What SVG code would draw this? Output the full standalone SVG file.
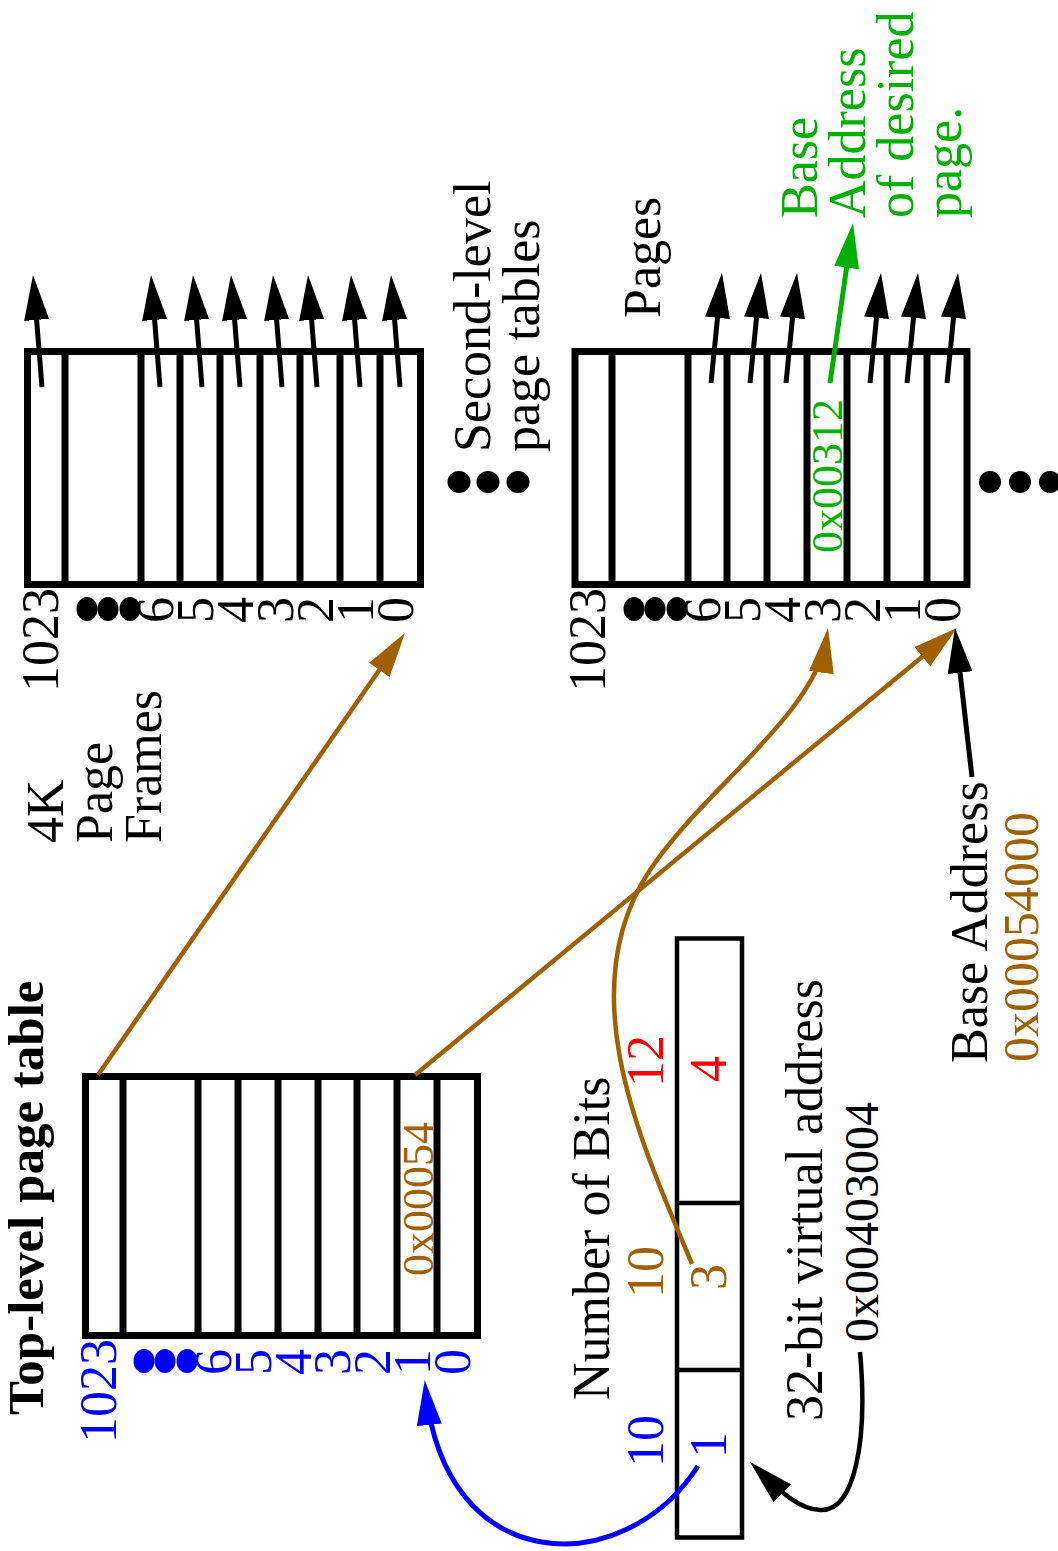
<svg xmlns="http://www.w3.org/2000/svg" width="1058" height="1551" viewBox="0 0 1058 1551">
<style>
.t{font-family:"Liberation Serif","Times New Roman",serif;font-size:52px;fill:#000}
.bold{font-weight:bold;font-size:51px}
.hex{font-size:44px}
.blue{fill:#0000ff}
.brown{fill:#a05f00}
.red{fill:#ff0000}
.green{fill:#00b000}
.tbl{fill:none;stroke:#000;stroke-width:7}
.div{stroke:#000;stroke-width:7}
.vbox{fill:none;stroke:#000;stroke-width:4.5}
.ar{fill:none;stroke:#000;stroke-width:5}
.arb{fill:none;stroke:#a05f00;stroke-width:4.5}
.arbl{fill:none;stroke:#0000ff;stroke-width:5}
.arg{fill:none;stroke:#00b000;stroke-width:5}
.dot{fill:#000}
.dotb{fill:#0000ff}
</style>
<defs>
<marker id="mk" markerUnits="userSpaceOnUse" viewBox="0 0 45 25" markerWidth="45" markerHeight="25" refX="35" refY="12.5" orient="auto"><path d="M0,0 L45,12.5 L0,25 z" fill="#000"/></marker>
<marker id="mbr" markerUnits="userSpaceOnUse" viewBox="0 0 45 25" markerWidth="45" markerHeight="25" refX="35" refY="12.5" orient="auto"><path d="M0,0 L45,12.5 L0,25 z" fill="#a05f00"/></marker>
<marker id="mbl" markerUnits="userSpaceOnUse" viewBox="0 0 45 25" markerWidth="45" markerHeight="25" refX="35" refY="12.5" orient="auto"><path d="M0,0 L45,12.5 L0,25 z" fill="#0000ff"/></marker>
<marker id="mgr" markerUnits="userSpaceOnUse" viewBox="0 0 45 25" markerWidth="45" markerHeight="25" refX="35" refY="12.5" orient="auto"><path d="M0,0 L45,12.5 L0,25 z" fill="#00b000"/></marker>
</defs>
<rect width="1058" height="1551" fill="#fff"/>

<!-- Top-level page table -->
<g id="top-level-table">
<text class="t bold" transform="translate(43,1415) rotate(-90)">Top-level page table</text>
<rect class="tbl" x="85.5" y="1076.5" width="392" height="259"/>
<path class="div" d="M123,1076.5V1335.5M198,1076.5V1335.5M238,1076.5V1335.5M278,1076.5V1335.5M318,1076.5V1335.5M357,1076.5V1335.5M397,1076.5V1335.5M437,1076.5V1335.5"/>
<text class="t hex brown" transform="translate(433,1276) rotate(-90)">0x00054</text>
<text class="t blue" text-anchor="end" transform="translate(116,1339) rotate(-90)">1023</text>
<ellipse class="dotb" cx="144" cy="1361" rx="10.5" ry="12"/>
<ellipse class="dotb" cx="165" cy="1361" rx="10.5" ry="12"/>
<ellipse class="dotb" cx="187" cy="1361" rx="10.5" ry="12"/>
<text class="t blue" text-anchor="end" transform="translate(231,1349) rotate(-90)">6</text>
<text class="t blue" text-anchor="end" transform="translate(271,1349) rotate(-90)">5</text>
<text class="t blue" text-anchor="end" transform="translate(311,1349) rotate(-90)">4</text>
<text class="t blue" text-anchor="end" transform="translate(350,1349) rotate(-90)">3</text>
<text class="t blue" text-anchor="end" transform="translate(390,1349) rotate(-90)">2</text>
<text class="t blue" text-anchor="end" transform="translate(430,1349) rotate(-90)">1</text>
<text class="t blue" text-anchor="end" transform="translate(470,1349) rotate(-90)">0</text>
</g>

<!-- Second-level page table (4K page frames) -->
<g id="second-level-table">
<rect class="tbl" x="27.5" y="351.5" width="393" height="233"/>
<path class="div" d="M65,351.5V584.5M141,351.5V584.5M180,351.5V584.5M220,351.5V584.5M260,351.5V584.5M300,351.5V584.5M340,351.5V584.5M380,351.5V584.5"/>
<text class="t" text-anchor="end" transform="translate(58,588) rotate(-90)">1023</text>
<ellipse class="dot" cx="87" cy="609" rx="10.5" ry="12"/>
<ellipse class="dot" cx="108" cy="609" rx="10.5" ry="12"/>
<ellipse class="dot" cx="130" cy="609" rx="10.5" ry="12"/>
<text class="t" text-anchor="end" transform="translate(173,597) rotate(-90)">6</text>
<text class="t" text-anchor="end" transform="translate(213,597) rotate(-90)">5</text>
<text class="t" text-anchor="end" transform="translate(253,597) rotate(-90)">4</text>
<text class="t" text-anchor="end" transform="translate(293,597) rotate(-90)">3</text>
<text class="t" text-anchor="end" transform="translate(333,597) rotate(-90)">2</text>
<text class="t" text-anchor="end" transform="translate(373,597) rotate(-90)">1</text>
<text class="t" text-anchor="end" transform="translate(413,597) rotate(-90)">0</text>
</g>

<g id="frames-label">
<text class="t" transform="translate(63,843) rotate(-90)">4K</text>
<text class="t" transform="translate(112,843) rotate(-90)">Page</text>
<text class="t" transform="translate(161,843) rotate(-90)">Frames</text>
</g>

<g id="second-level-label">
<text class="t" transform="translate(490,452) rotate(-90)">Second-level</text>
<text class="t" transform="translate(539,452) rotate(-90)">page tables</text>
<ellipse class="dot" cx="459" cy="482" rx="11.5" ry="11"/>
<ellipse class="dot" cx="488" cy="482" rx="11.5" ry="11"/>
<ellipse class="dot" cx="518" cy="482" rx="11.5" ry="11"/>
</g>

<!-- Pages table -->
<g id="pages-table">
<text class="t" transform="translate(660,318) rotate(-90)">Pages</text>
<rect class="tbl" x="575" y="351.5" width="392" height="233"/>
<path class="div" d="M612,351.5V584.5M688,351.5V584.5M727,351.5V584.5M767,351.5V584.5M807,351.5V584.5M847,351.5V584.5M887,351.5V584.5M927,351.5V584.5"/>
<text class="t hex green" transform="translate(842,553) rotate(-90)">0x00312</text>
<text class="t" text-anchor="end" transform="translate(605,588) rotate(-90)">1023</text>
<ellipse class="dot" cx="634" cy="609" rx="10.5" ry="12"/>
<ellipse class="dot" cx="655" cy="609" rx="10.5" ry="12"/>
<ellipse class="dot" cx="677" cy="609" rx="10.5" ry="12"/>
<text class="t" text-anchor="end" transform="translate(720,597) rotate(-90)">6</text>
<text class="t" text-anchor="end" transform="translate(760,597) rotate(-90)">5</text>
<text class="t" text-anchor="end" transform="translate(800,597) rotate(-90)">4</text>
<text class="t" text-anchor="end" transform="translate(840,597) rotate(-90)">3</text>
<text class="t" text-anchor="end" transform="translate(880,597) rotate(-90)">2</text>
<text class="t" text-anchor="end" transform="translate(920,597) rotate(-90)">1</text>
<text class="t" text-anchor="end" transform="translate(960,597) rotate(-90)">0</text>
<ellipse class="dot" cx="990" cy="482" rx="11" ry="11"/>
<ellipse class="dot" cx="1020" cy="482" rx="11" ry="11"/>
<ellipse class="dot" cx="1050" cy="482" rx="11" ry="11"/>
</g>

<g id="desired-page-label">
<text class="t green" transform="translate(817,218) rotate(-90)">Base</text>
<text class="t green" transform="translate(865,218) rotate(-90)">Address</text>
<text class="t green" transform="translate(913,218) rotate(-90)">of desired</text>
<text class="t green" transform="translate(961,218) rotate(-90)">page.</text>
</g>

<g id="base-address-label">
<text class="t" transform="translate(987,1063) rotate(-90)">Base Address</text>
<text class="t brown" style="font-size:50px" transform="translate(1038,1062) rotate(-90)">0x00054000</text>
</g>

<!-- Virtual address -->
<g id="virtual-address">
<text class="t" transform="translate(609,1400) rotate(-90)">Number of Bits</text>
<text class="t red" text-anchor="middle" transform="translate(663,1061) rotate(-90)">12</text>
<text class="t brown" text-anchor="middle" transform="translate(663,1272) rotate(-90)">10</text>
<text class="t blue" text-anchor="middle" transform="translate(663,1441) rotate(-90)">10</text>
<rect class="vbox" x="677" y="938.5" width="65" height="599"/>
<path class="vbox" d="M677,1203H742M677,1370H742"/>
<text class="t red" text-anchor="middle" transform="translate(726,1069) rotate(-90)">4</text>
<text class="t brown" text-anchor="middle" transform="translate(726,1277) rotate(-90)">3</text>
<text class="t blue" text-anchor="middle" transform="translate(726,1445) rotate(-90)">1</text>
<text class="t" text-anchor="middle" transform="translate(822,1200) rotate(-90)">32-bit virtual address</text>
<text class="t" style="font-size:48px" text-anchor="middle" transform="translate(878,1222) rotate(-90)">0x00403004</text>
</g>

<!-- Connectors -->
<g id="connectors">
<line class="ar" marker-end="url(#mk)" x1="42" y1="387" x2="33.8" y2="285"/>
<line class="ar" marker-end="url(#mk)" x1="160" y1="387" x2="151.8" y2="285"/>
<line class="ar" marker-end="url(#mk)" x1="202" y1="387" x2="193.8" y2="285"/>
<line class="ar" marker-end="url(#mk)" x1="240" y1="387" x2="231.8" y2="285"/>
<line class="ar" marker-end="url(#mk)" x1="282" y1="387" x2="273.8" y2="285"/>
<line class="ar" marker-end="url(#mk)" x1="317" y1="387" x2="308.8" y2="285"/>
<line class="ar" marker-end="url(#mk)" x1="360" y1="387" x2="351.8" y2="285"/>
<line class="ar" marker-end="url(#mk)" x1="400" y1="387" x2="391.8" y2="285"/>

<line class="ar" marker-end="url(#mk)" x1="711" y1="383" x2="721" y2="283"/>
<line class="ar" marker-end="url(#mk)" x1="750" y1="383" x2="760" y2="283"/>
<line class="ar" marker-end="url(#mk)" x1="786" y1="383" x2="796" y2="283"/>
<line class="ar" marker-end="url(#mk)" x1="870" y1="383" x2="880" y2="283"/>
<line class="ar" marker-end="url(#mk)" x1="907" y1="383" x2="917" y2="283"/>
<line class="ar" marker-end="url(#mk)" x1="947" y1="383" x2="957" y2="283"/>
<line class="arg" marker-end="url(#mgr)" x1="830" y1="383" x2="851.6" y2="232.9"/>

<line class="arb" marker-end="url(#mbr)" x1="98" y1="1075" x2="399.3" y2="641.2"/>
<line class="arb" marker-end="url(#mbr)" x1="415" y1="1075" x2="949.3" y2="634.4"/>
<path class="arb" marker-end="url(#mbr)" d="M692,1264 C640,1140 570,990 650,870 C703,790 815,715 826.6,637.9"/>
<path class="arbl" marker-end="url(#mbl)" d="M698,1466 C625,1580 445,1580 425.75,1390"/>
<path class="ar" style="stroke-width:4.5" marker-end="url(#mk)" d="M860,1352 C868,1440 855,1512 820,1510 C800,1509 784,1495 757.2,1468.9"/>
<line class="ar" marker-end="url(#mk)" x1="972" y1="777" x2="956.1" y2="637.9"/>
</g>
</svg>
